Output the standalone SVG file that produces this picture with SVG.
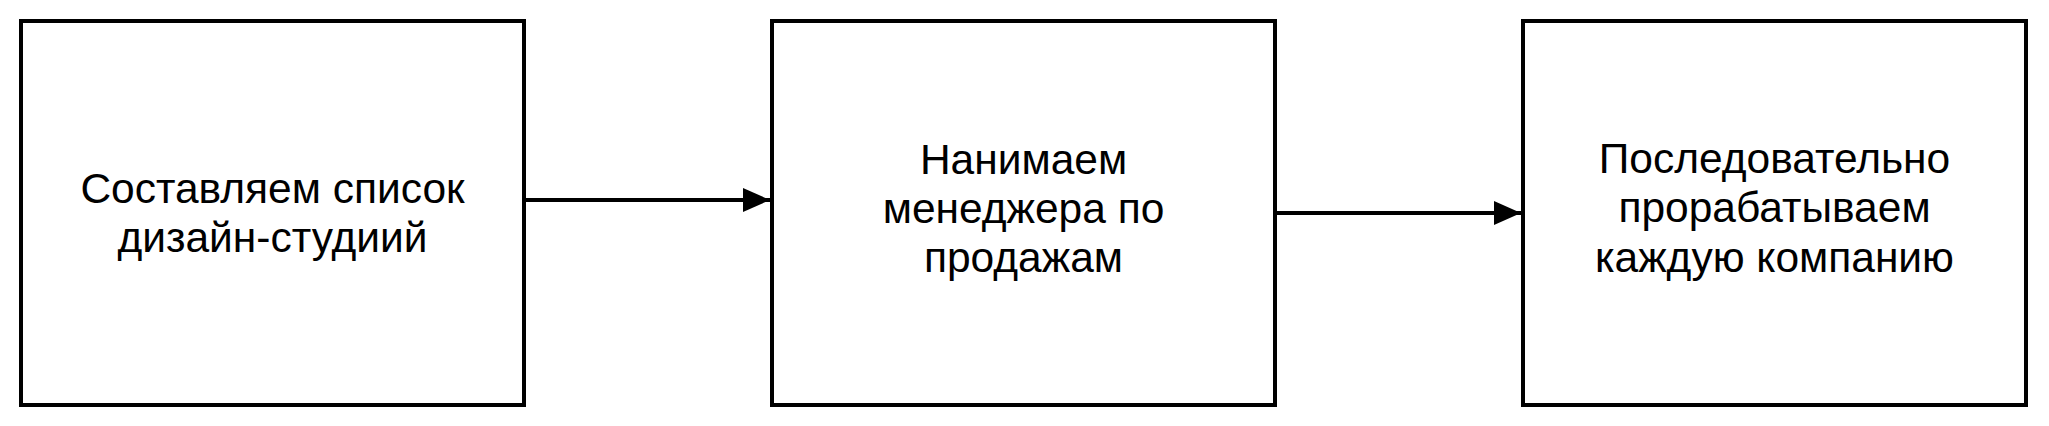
<svg xmlns="http://www.w3.org/2000/svg" width="2049" height="426" viewBox="0 0 2049 426">
<style>
.box{fill:#fff;stroke:#000;stroke-width:4}
.lbl{font-family:"Liberation Sans",Arial,Helvetica,sans-serif;font-size:42.5px;fill:#000;text-anchor:middle}
.edge{stroke:#000;stroke-width:4;fill:none}
</style>
<defs>
<marker id="ah" markerUnits="userSpaceOnUse" markerWidth="30" markerHeight="26" refX="27" refY="12" orient="auto">
<path d="M0,0 L27,12 L0,24 Z" fill="#000"/>
</marker>
</defs>
<rect width="2049" height="426" fill="#fff"/>
<g id="n1">
<rect class="box" x="21" y="21" width="503" height="384"/>
<text class="lbl" x="272.5" y="203">Составляем список</text>
<text class="lbl" x="272.5" y="252">дизайн-студиий</text>
</g>
<g id="n2">
<rect class="box" x="772" y="21" width="503" height="384"/>
<text class="lbl" x="1023.5" y="174">Нанимаем</text>
<text class="lbl" x="1023.5" y="223">менеджера по</text>
<text class="lbl" x="1023.5" y="272">продажам</text>
</g>
<g id="n3">
<rect class="box" x="1523" y="21" width="503" height="384"/>
<text class="lbl" x="1774.5" y="173">Последовательно</text>
<text class="lbl" x="1774.5" y="222">прорабатываем</text>
<text class="lbl" x="1774.5" y="272">каждую компанию</text>
</g>
<g id="edges">
<path class="edge" d="M526,200 L770,200" marker-end="url(#ah)"/>
<path class="edge" d="M1277,213 L1521,213" marker-end="url(#ah)"/>
</g>
</svg>
